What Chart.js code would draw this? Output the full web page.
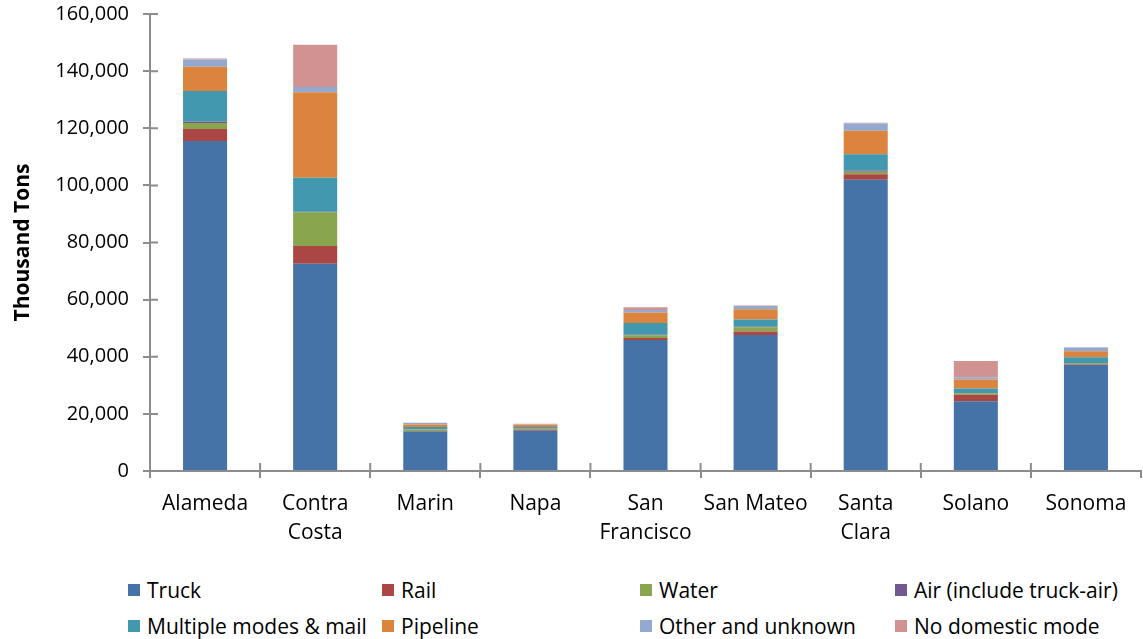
<!DOCTYPE html>
<html lang="en">
  <head>
    <meta charset="UTF-8" />
    <title>Freight Tonnage by County</title>
    <script src="https://cdn.jsdelivr.net/npm/chart.js"></script>
    <style>
      body { margin: 0; background: #fff; font-family: "Open Sans", sans-serif; }
      #wrap { position: absolute; left: 0; top: -12px; width: 1143px; height: 587px; }
      #legend { position: absolute; left: 0; top: 575px; width: 1143px; height: 64px; }
      .item { position: absolute; display: flex; align-items: center; font-size: 21px; color: #000; white-space: nowrap; }
      .box { width: 12px; height: 12px; margin-right: 7px; }
    </style>
  </head>
  <body>
    <div id="wrap"><canvas id="freightChart"></canvas></div>
    <div id="legend"></div>
    <script>
      // thousand tons by county and mode
      const counties = ["Alameda", ["Contra", "Costa"], "Marin", "Napa", ["San", "Francisco"], "San Mateo", ["Santa", "Clara"], "Solano", "Sonoma"];
      const truck = [115500, 72600, 13800, 14100, 45900, 47600, 102000, 24400, 37100];
      const rail = [4200, 6200, 200, 300, 700, 1200, 1900, 2300, 200];
      const water = [2100, 11800, 500, 400, 900, 1500, 900, 500, 400];
      const air = [600, 200, 100, 100, 200, 200, 400, 100, 100];
      const multiple = [10600, 11900, 800, 500, 4100, 2500, 5700, 1600, 2000];
      const pipeline = [8500, 29900, 900, 800, 3700, 3600, 8200, 3100, 2100];
      const other = [2600, 1800, 500, 200, 900, 1200, 2600, 800, 1300];
      const noDomestic = [300, 14800, 100, 100, 900, 100, 200, 5700, 100];

      const modes = [
        { label: "Truck", data: truck, color: "#4572A7" },
        { label: "Rail", data: rail, color: "#AA4643" },
        { label: "Water", data: water, color: "#89A54E" },
        { label: "Air (include truck-air)", data: air, color: "#71588F" },
        { label: "Multiple modes & mail", data: multiple, color: "#4198AF" },
        { label: "Pipeline", data: pipeline, color: "#DB843D" },
        { label: "Other and unknown", data: other, color: "#93A9CF" },
        { label: "No domestic mode", data: noDomestic, color: "#D19392" },
      ];

      const axisColor = "#8c8c8c";

      // ticks in the reference cross the axis line, draw the inner half too
      const crossTicks = {
        id: "crossTicks",
        afterDraw(chart) {
          const ctx = chart.ctx;
          const x = chart.scales.x;
          const y = chart.scales.y;
          ctx.save();
          ctx.strokeStyle = axisColor;
          ctx.lineWidth = 2;
          ctx.beginPath();
          y.ticks.forEach((t) => {
            const py = y.getPixelForValue(t.value);
            ctx.moveTo(y.right, py);
            ctx.lineTo(y.right + 8, py);
          });
          for (let i = 1; i < counties.length; i++) {
            const px = (x.getPixelForValue(i - 1) + x.getPixelForValue(i)) / 2;
            ctx.moveTo(px, x.top);
            ctx.lineTo(px, x.top - 8);
          }
          ctx.stroke();
          ctx.restore();
        },
      };

      const ctx = document.getElementById("freightChart").getContext("2d");
      new Chart(ctx, {
        type: "bar",
        data: {
          labels: counties,
          datasets: modes.map((m) => ({
            label: m.label,
            data: m.data,
            backgroundColor: m.color,
            borderWidth: 0,
            barPercentage: 0.4,
            categoryPercentage: 1,
          })),
        },
        options: {
          responsive: true,
          maintainAspectRatio: false,
          animation: false,
          layout: { padding: { top: 1, right: 2, left: 10 } },
          plugins: { legend: { display: false }, tooltip: { enabled: false } },
          scales: {
            x: {
              stacked: true,
              afterFit: (s) => { s.height = 104; },
              grid: { drawOnChartArea: false, tickLength: 7, color: axisColor, lineWidth: 2 },
              border: { color: axisColor, width: 2 },
              ticks: { color: "#000", padding: 11, maxRotation: 0, font: { family: "Open Sans", size: 21, lineHeight: 1.4 } },
            },
            y: {
              stacked: true,
              min: 0,
              max: 160000,
              afterFit: (s) => { s.width = 140; },
              grid: { drawOnChartArea: false, tickLength: 7, color: axisColor, lineWidth: 2 },
              border: { color: axisColor, width: 2 },
              ticks: {
                stepSize: 20000,
                color: "#000",
                padding: 14,
                font: { family: "Open Sans", size: 20 },
                callback: (v) => v.toLocaleString("en-US"),
              },
              title: {
                display: true,
                text: "Thousand Tons",
                color: "#000",
                padding: { top: 0, bottom: 0 },
                font: { family: "Open Sans", size: 21, weight: "bold" },
              },
            },
          },
        },
        plugins: [crossTicks],
      });

      // legend laid out in the reference's 4x2 grid
      const legendCols = [128, 382, 640, 895];
      const legendRows = [16, 52];
      const legend = document.getElementById("legend");
      modes.forEach((m, i) => {
        const el = document.createElement("div");
        el.className = "item";
        el.style.left = legendCols[i % 4] + "px";
        el.style.top = legendRows[Math.floor(i / 4)] - 15 + "px";
        el.innerHTML = `<span class="box" style="background:${m.color}"></span><span>${m.label}</span>`;
        legend.appendChild(el);
      });
    </script>
  </body>
</html>
